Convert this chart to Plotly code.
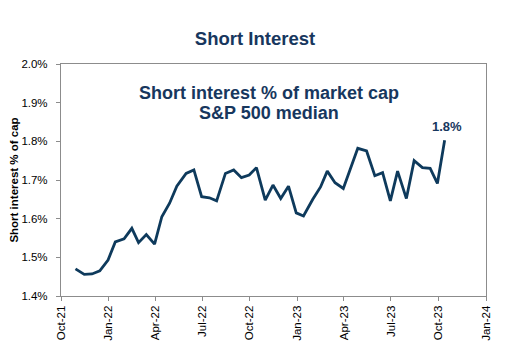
import plotly.graph_objects as go

dates = [
    "2021-10-29", "2021-11-15", "2021-11-30", "2021-12-15", "2021-12-31",
    "2022-01-14", "2022-01-31", "2022-02-15", "2022-02-28", "2022-03-15", "2022-03-31",
    "2022-04-14", "2022-04-29", "2022-05-13", "2022-05-31", "2022-06-15", "2022-06-30",
    "2022-07-15", "2022-07-29", "2022-08-15", "2022-08-31", "2022-09-15", "2022-09-30",
    "2022-10-14", "2022-10-31", "2022-11-15", "2022-11-30", "2022-12-15", "2022-12-30",
    "2023-01-13", "2023-01-31", "2023-02-15", "2023-02-28", "2023-03-15", "2023-03-31",
    "2023-04-14", "2023-04-28", "2023-05-15", "2023-05-31", "2023-06-15", "2023-06-30",
    "2023-07-14", "2023-07-31", "2023-08-15", "2023-08-31", "2023-09-15", "2023-09-29",
    "2023-10-13",
]
short_interest = [
    1.470, 1.456, 1.457, 1.465, 1.493,
    1.540, 1.548, 1.575, 1.538, 1.559, 1.534,
    1.605, 1.640, 1.684, 1.717, 1.726, 1.657,
    1.654, 1.646, 1.717, 1.726, 1.706, 1.713,
    1.732, 1.648, 1.687, 1.652, 1.684, 1.615,
    1.607, 1.650, 1.682, 1.723, 1.693, 1.678,
    1.730, 1.782, 1.775, 1.711, 1.719, 1.646,
    1.723, 1.652, 1.750, 1.732, 1.730, 1.691,
    1.803,
]
x_tick_vals = ["2021-10-01", "2022-01-01", "2022-04-01", "2022-07-01", "2022-10-01",
               "2023-01-01", "2023-04-01", "2023-07-01", "2023-10-01", "2024-01-01"]
x_tick_text = ["Oct-21", "Jan-22", "Apr-22", "Jul-22", "Oct-22",
               "Jan-23", "Apr-23", "Jul-23", "Oct-23", "Jan-24"]
y_tick_vals = [1.4, 1.5, 1.6, 1.7, 1.8, 1.9, 2.0]
y_tick_text = ["1.4%", "1.5%", "1.6%", "1.7%", "1.8%", "1.9%", "2.0%"]

navy = "#0E3A5C"
text_navy = "#17375E"
font_main = "Liberation Sans, Arial, sans-serif"

fig = go.Figure()
fig.add_trace(go.Scatter(x=dates, y=short_interest, mode="lines",
                         line=dict(color=navy, width=2.8), hoverinfo="skip"))

fig.add_annotation(x=dates[-1], y=short_interest[-1], text="<b>1.8%</b>",
                   showarrow=False, yanchor="bottom", xanchor="center",
                   xshift=2, yshift=4,
                   font=dict(family=font_main, size=13, color=text_navy))
fig.add_annotation(xref="paper", yref="paper", x=0.49, y=0.873,
                   text="<b>Short interest % of market cap</b>",
                   showarrow=False, xanchor="center", yanchor="middle",
                   font=dict(family=font_main, size=18, color=text_navy))
fig.add_annotation(xref="paper", yref="paper", x=0.49, y=0.7875,
                   text="<b>S&P 500 median</b>",
                   showarrow=False, xanchor="center", yanchor="middle",
                   font=dict(family=font_main, size=18, color=text_navy))

# The page body adds an 8px offset, so the figure is sized to fit the remaining window.
fig.update_layout(
    width=508, height=348,
    margin=dict(l=53, r=30, t=56, b=60),
    paper_bgcolor="white", plot_bgcolor="white",
    showlegend=False,
    title=dict(text="<b>Short Interest</b>", x=247 / 508, xanchor="center",
               y=1 - 31 / 348, yanchor="middle",
               font=dict(family="Liberation Sans Narrow, Arial Narrow, Liberation Sans, Arial",
                         size=18.5, color=text_navy)),
    xaxis=dict(type="date", range=["2021-10-01", "2024-01-01"], automargin=False,
               tickmode="array", tickvals=x_tick_vals, ticktext=x_tick_text,
               tickangle=-90, showgrid=False, zeroline=False,
               showline=True, linecolor="#8C8C8C", linewidth=1.2, mirror=True,
               ticks="outside", ticklen=4, tickcolor="#8C8C8C",
               tickfont=dict(family=font_main, size=11.5, color="black")),
    yaxis=dict(range=[1.4, 2.0], tickmode="array", tickvals=y_tick_vals, ticktext=y_tick_text,
               automargin=False, showgrid=False, zeroline=False,
               showline=True, linecolor="#8C8C8C", linewidth=1.2, mirror=True,
               ticks="outside", ticklen=4, tickcolor="#8C8C8C", ticklabelstandoff=6,
               tickfont=dict(family=font_main, size=11.5, color="black"),
               title=dict(text="<b>Short interest % of cap</b>", standoff=6,
                          font=dict(family=font_main, size=11.5, color="black"))),
)

fig.write_html("out.html")
